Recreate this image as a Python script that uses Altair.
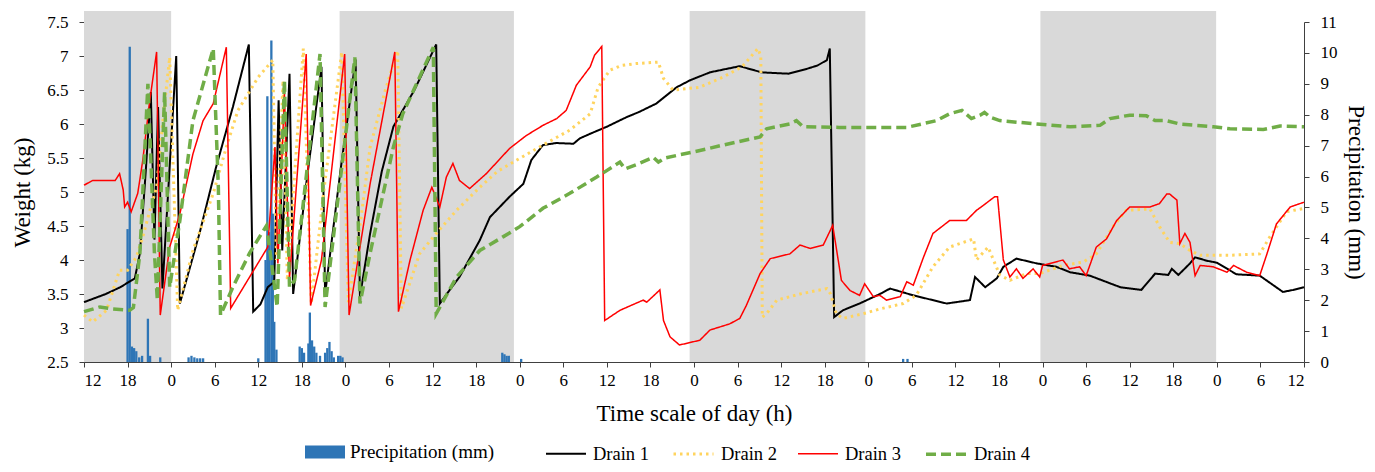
import altair as alt
import pandas as pd

# ---------------- data ----------------
XTICKS = list(range(0, 169, 6))
YTICKS_KG = [2.5, 3, 3.5, 4, 4.5, 5, 5.5, 6, 6.5, 7, 7.5]
YTICKS_MM = list(range(0, 12))

BAND_START = [0, 35.2, 83.4, 131.7]
BAND_END = [12, 59.2, 107.6, 155.9]

SERIES = ["Drain 1", "Drain 2", "Drain 3", "Drain 4"]

D1_H = [0, 3, 5, 7.0, 7.7, 8.5, 9.2, 9.7, 10.2, 10.8, 12.7, 13.2, 15.9, 18.2, 20.5, 22.7, 23.3,
        24.3, 25.3, 26.2, 26.8, 27.3, 28.3, 28.8, 30.7, 32.7, 33.2, 35.3, 37.4, 38.0, 39.4, 41,
        42.6, 45.5, 48.5, 49.0, 50.3, 51.7, 54.5, 55.9, 58.6, 60.5, 61.6, 63.2, 65, 67.4, 68.3,
        70, 72, 74.7, 76.5, 78.8, 81.6, 83.4, 86.2, 88, 90.3, 93.3, 95, 97, 99.5, 101, 102.3,
        102.7, 103.3, 104.5, 106.8, 108.2, 109.6, 111, 114.2, 118.8, 122, 122.7, 124.1, 125.7,
        126.6, 128.4, 131.2, 133.9, 135.8, 138.5, 142.7, 145.6, 147.5, 149.3, 149.8, 150.7,
        152.3, 153, 154.6, 156, 158.7, 161.9, 165.1, 166.5, 168]
D1_KG = [3.38, 3.5, 3.6, 3.73, 4.1, 5.3, 6.47, 4.3, 6.25, 3.58, 7.0, 3.36, 4.39, 5.37, 6.25, 7.17,
         3.24, 3.35, 3.6, 3.68, 6.35, 4.14, 6.74, 3.5, 5.2, 6.84, 3.5, 5.3, 6.95, 3.46, 4.39, 5.3,
         5.96, 6.5, 7.17, 3.36, 3.55, 3.75, 4.29, 4.63, 4.93, 5.12, 5.47, 5.69, 5.72, 5.71, 5.79,
         5.87, 5.96, 6.1, 6.18, 6.3, 6.54, 6.64, 6.76, 6.8, 6.85, 6.76, 6.75, 6.74, 6.81, 6.86,
         6.94, 7.11, 3.16, 3.26, 3.36, 3.43, 3.5, 3.58, 3.48, 3.36, 3.41, 3.75, 3.6, 3.73, 3.9,
         4.02, 3.95, 3.9, 3.82, 3.77, 3.6, 3.56, 3.8, 3.78, 3.87, 3.78, 3.95, 4.04, 3.99, 3.96,
         3.79, 3.77, 3.53, 3.56, 3.6]

D2_H = [0, 1.2, 3.1, 4.9, 6, 7.2, 8.1, 9.0, 10, 11.0, 11.8, 12.9, 15, 17.8, 19.6, 21.2, 24, 26.0,
        26.5, 27.4, 28, 30.2, 31.3, 33, 35.5, 36.4, 38, 39.4, 41.5, 43.2, 43.7, 46.2, 48.5, 51.3,
        54.5, 56.9, 59.6, 63.2, 66.9, 69.7, 70.8, 72.4, 74, 76.1, 79.1, 79.8, 81.1, 84.8, 88,
        90.6, 92.8, 93.2, 93.4, 94, 95.4, 98.6, 102.3, 102.8, 103.6, 104.5, 107.3, 109.6, 112.8,
        114.6, 116.9, 119.2, 122.5, 122.9, 124.5, 126.1, 127.5, 129.8, 131.6, 134.8, 137.6,
        139.4, 141.7, 143.5, 146.8, 148.1, 149.5, 150.9, 152.3, 153.7, 157.8, 161.9, 163.3,
        165.6, 168]
D2_KG = [3.19, 3.09, 3.26, 3.85, 3.85, 4.04, 4.34, 4.7, 5.07, 6.2, 6.98, 3.26, 4.14, 4.98, 5.66,
         6.2, 6.69, 6.94, 4.0, 6.64, 3.7, 7.11, 3.36, 5.0, 7.06, 3.38, 4.5, 5.66, 6.5, 7.08, 3.29,
         4.09, 4.39, 4.73, 5.07, 5.3, 5.47, 5.69, 5.91, 6.15, 6.54, 6.79, 6.86, 6.89, 6.91, 6.67,
         6.5, 6.54, 6.69, 6.84, 7.11, 7.0, 3.16, 3.21, 3.41, 3.5, 3.58, 3.5, 3.21, 3.14, 3.21,
         3.28, 3.36, 3.48, 3.9, 4.19, 4.31, 4.0, 4.19, 3.78, 3.7, 3.8, 3.8, 3.92, 3.97, 4.09,
         4.49, 4.73, 4.75, 4.49, 4.26, 4.24, 4.14, 4.07, 4.07, 4.09, 4.34, 4.71, 4.76]

D3_H = [0, 1.2, 4.3, 4.9, 5.4, 5.6, 6.0, 6.5, 7.4, 8.1, 9.0, 10.0, 10.5, 11.8, 13.2, 15, 16.4, 17.8,
        19.6, 20.2, 25.3, 26.3, 26.7, 27.6, 28.3, 30.6, 31.2, 32.7, 35.9, 36.5, 39.4, 42.8, 43.3,
        44.9, 46.7, 47.9, 49, 49.9, 50.8, 51.7, 53.1, 55.4, 58.6, 60.9, 63.2, 65.1, 66.4, 67.8,
        69.7, 70.3, 71.3, 71.7, 73.8, 77, 77.5, 79.3, 79.8, 80.7, 82, 84.8, 86.2, 88.9, 90.3,
        91.2, 93.1, 94.5, 97.2, 98.6, 100, 101.8, 103.1, 104.3, 105.5, 106.8, 107.5, 108.7,
        109.6, 110.5, 112.4, 113.3, 114.2, 115.6, 116.9, 119.2, 121.5, 122.9, 123.8, 125.4,
        125.8, 126.6, 127.5, 128.4, 129.3, 130.7, 131.6, 132, 134.8, 135.7, 137.1, 138, 139.4,
        140.8, 142.2, 144, 146.8, 148.1, 149.1, 149.5, 150.5, 150.9, 151.6, 152.3, 153, 153.7,
        155.5, 157.4, 158.3, 160.1, 161.9, 162.9, 164.2, 166.1, 168]
D3_KG = [5.1, 5.17, 5.17, 5.27, 5.03, 4.78, 4.85, 4.71, 4.98, 5.47, 6.3, 7.06, 3.19, 4.19, 4.68,
         5.56, 6.05, 6.3, 7.13, 3.29, 4.19, 5.66, 3.95, 6.45, 3.73, 7.03, 3.33, 4.0, 7.03, 3.19,
         5.12, 7.06, 3.24, 4.0, 4.73, 5.07, 4.78, 5.22, 5.42, 5.17, 5.05, 5.27, 5.64, 5.83, 5.98,
         6.08, 6.2, 6.57, 6.84, 7.01, 7.14, 3.11, 3.26, 3.41, 3.38, 3.56, 3.11, 2.87, 2.75, 2.82,
         2.97, 3.06, 3.14, 3.33, 3.8, 4.02, 4.09, 4.22, 4.17, 4.22, 4.51, 3.7, 3.55, 3.48, 3.65,
         3.46, 3.48, 3.41, 3.46, 3.68, 3.63, 4.04, 4.39, 4.58, 4.58, 4.73, 4.8, 4.93, 4.93, 4.0,
         3.75, 3.87, 3.73, 3.87, 3.75, 3.92, 4.0, 3.87, 3.9, 3.77, 4.19, 4.31, 4.58, 4.78, 4.78,
         4.83, 4.97, 4.97, 4.88, 4.24, 4.39, 4.26, 3.77, 3.92, 3.9, 3.82, 3.92, 3.82, 3.77, 4.09,
         4.53, 4.78, 4.85]

D4_H = [0, 2.2, 4, 6.3, 6.8, 7.7, 8.8, 9.7, 10.1, 11.1, 11.8, 13.2, 15, 17.8, 18.5, 18.8, 20.5,
        22.8, 25.1, 25.6, 26.6, 27.6, 28.3, 29, 32.5, 33.2, 37.3, 38, 39.4, 42.6, 43.9, 48.1, 48.5,
        51.3, 54.5, 57.7, 60, 63.2, 66.9, 70.6, 73.8, 74.5, 76, 78.4, 79.1, 80, 84.8, 88, 93.1, 94,
        97.2, 98.1, 99, 104, 109.6, 113.3, 117.4, 119.2, 120.9, 122.2, 123.4, 124, 124.8, 126.1,
        131.2, 135.8, 139.9, 141.3, 144, 146.3, 147.5, 149, 150.9, 155.5, 157.8, 162.4, 164.7, 168]
D4_KG = [3.24, 3.31, 3.28, 3.26, 3.3, 4.1, 6.59, 4.1, 3.41, 6.47, 3.6, 4.58, 6.05, 7.11, 5.07,
         3.19, 3.6, 4.1, 4.5, 4.14, 3.31, 6.64, 3.6, 3.7, 7.03, 3.31, 6.98, 3.36, 4.1, 5.66, 6.15,
         7.13, 3.21, 3.75, 4.14, 4.34, 4.49, 4.76, 4.98, 5.22, 5.44, 5.34, 5.4, 5.51, 5.44, 5.5,
         5.61, 5.69, 5.81, 5.93, 6.0, 6.05, 5.96, 5.95, 5.95, 5.95, 6.05, 6.15, 6.2, 6.08, 6.13,
         6.17, 6.1, 6.05, 6.0, 5.96, 5.98, 6.08, 6.13, 6.12, 6.05, 6.05, 6.0, 5.96, 5.93, 5.92,
         5.97, 5.96]

PRECIP_H = [6.0, 6.3, 6.6, 6.9, 7.2, 7.6, 8.0, 8.8, 9.1, 10.5, 14.4, 14.8, 15.2, 15.6, 16.0, 16.4,
            24.0, 25.0, 25.25, 25.5, 25.8, 26.0, 26.2, 26.5, 29.7, 30.0, 30.3, 30.9, 31.1, 31.4,
            31.7, 32.0, 32.5, 33.2, 33.5, 33.8, 34.1, 34.4, 35.0, 35.3, 35.6, 57.6, 57.9, 58.2,
            58.5, 60.2, 112.8, 113.4]
PRECIP_MM = [4.3, 10.2, 0.5, 0.45, 0.35, 0.15, 0.2, 1.4, 0.2, 0.15, 0.15, 0.2, 0.15, 0.12, 0.12,
             0.12, 0.12, 3.3, 8.6, 4.2, 10.4, 4.8, 1.3, 0.4, 0.5, 0.45, 0.3, 0.6, 1.6, 0.7, 0.5,
             0.3, 0.2, 0.3, 0.45, 0.65, 0.35, 0.15, 0.2, 0.2, 0.15, 0.3, 0.25, 0.2, 0.2, 0.1, 0.1,
             0.1]

# ---------------- tables ----------------
frames = []
for name, hs, ks in zip(SERIES, [D1_H, D2_H, D3_H, D4_H], [D1_KG, D2_KG, D3_KG, D4_KG]):
    frames.append(pd.DataFrame({"series": name, "h": hs, "kg": ks, "idx": range(len(hs))}))
df_lines = pd.concat(frames, ignore_index=True)
df_precip = pd.DataFrame({"h": PRECIP_H, "mm": PRECIP_MM, "label": "Precipitation (mm)"})
df_bands = pd.DataFrame({"start": BAND_START, "end": BAND_END})

FONT = "Liberation Serif"
W, H = 1220, 340
LEG_Y = 410

x_scale = alt.Scale(domain=[0, 168], nice=False, zero=False, padding=0)
x_axis = alt.Axis(values=XTICKS, labelExpr="'' + ((12 + datum.value) % 24)",
                  title="Time scale of day (h)", titlePadding=14, labelPadding=5)

bands = alt.Chart(df_bands).mark_rect(color="#D9D9D9").encode(
    x=alt.X("start:Q", scale=x_scale, axis=x_axis),
    x2="end:Q",
    y=alt.value(-11),
    y2=alt.value(H),
)

bars = alt.Chart(df_precip).mark_bar(size=2.3).encode(
    x=alt.X("h:Q", scale=x_scale, axis=x_axis),
    y=alt.Y("mm:Q", stack=None, scale=alt.Scale(domain=[0, 11], nice=False),
            axis=alt.Axis(orient="right", values=YTICKS_MM, title="Precipitation (mm)",
                          titlePadding=6, labelPadding=11)),
    fill=alt.Fill("label:N",
                  scale=alt.Scale(domain=["Precipitation (mm)"], range=["#2E75B6"]),
                  legend=alt.Legend(title=None, orient="none", legendX=221, legendY=LEG_Y,
                                    symbolType="M-1,-0.33H1V0.33H-1Z", symbolSize=1600,
                                    symbolStrokeWidth=0, symbolOpacity=1,
                                    labelFontSize=19, labelFont=FONT, labelOffset=5,
                                    labelColor="#000")),
)

COLORS = ["#000000", "#FFD45E", "#FF0000", "#70AD47"]
DASHES = [[1, 0], [2.5, 4], [1, 0], [10, 5]]
WIDTHS = [2, 3, 1.5, 3.5]

leg = dict(title=None, orient="none", legendX=461, legendY=LEG_Y, direction="horizontal")

lines = alt.Chart(df_lines).mark_line().encode(
    x=alt.X("h:Q", scale=x_scale, axis=x_axis),
    y=alt.Y("kg:Q", scale=alt.Scale(domain=[2.5, 7.5], nice=False, zero=False),
            axis=alt.Axis(orient="left", values=YTICKS_KG, format="~f", title="Weight (kg)",
                          titlePadding=12, labelPadding=11)),
    stroke=alt.Stroke("series:N", scale=alt.Scale(domain=SERIES, range=COLORS),
                      legend=alt.Legend(symbolType="stroke", symbolSize=1600,
                                        labelFontSize=18.5, labelFont=FONT, labelOffset=6,
                                        columnPadding=18, labelColor="#000", **leg)),
    strokeDash=alt.StrokeDash("series:N", scale=alt.Scale(domain=SERIES, range=DASHES),
                              legend=alt.Legend(**leg)),
    strokeWidth=alt.StrokeWidth("series:N",
                                scale=alt.Scale(type="ordinal", domain=SERIES, range=WIDTHS),
                                legend=alt.Legend(**leg)),
    order="idx:Q",
)

chart = alt.layer(bands, bars, lines).resolve_scale(y="independent").properties(
    width=W, height=H,
    autosize=alt.AutoSizeParams(type="none"),
    padding={"left": 76, "top": 14, "right": 63, "bottom": 102},
).configure_view(stroke=None).configure_axis(
    labelFont=FONT, titleFont=FONT, labelFontSize=17, titleFontSize=23,
    titleFontWeight="normal", labelColor="#000", titleColor="#000",
    domainColor="#404040", tickColor="#404040", grid=False, tickSize=5,
)

chart.save("out.html", embed_options={"renderer": "svg", "actions": False})
